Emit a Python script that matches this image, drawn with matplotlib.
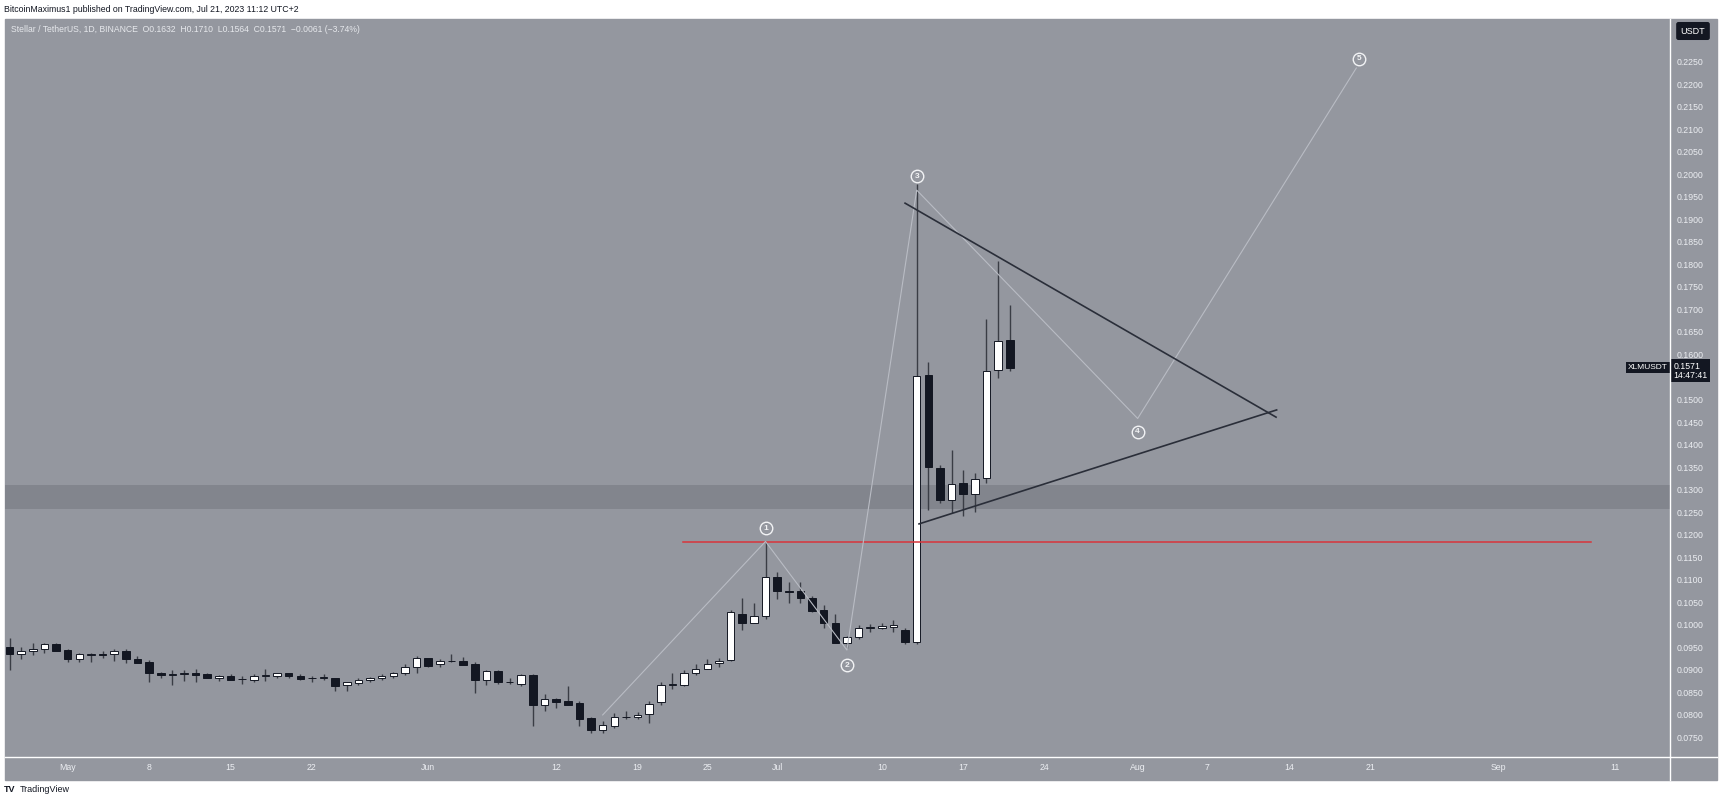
import numpy as np
import pandas as pd
import matplotlib
matplotlib.use("Agg")
import matplotlib.pyplot as plt
from matplotlib.patches import Rectangle
from matplotlib.lines import Line2D
import matplotlib.transforms as mtransforms

plt.rcParams['font.family'] = ['Liberation Sans', 'DejaVu Sans']

# daily candles, XLM/USDT, Apr 26 .. Jul 21 2023
dates = pd.date_range("2023-04-26", "2023-07-21", freq="D")
opens = [0.0950, 0.0935, 0.0941, 0.0946, 0.0958,
         0.0944, 0.0925, 0.0934, 0.0935, 0.0935, 0.0942, 0.0924, 0.0917, 0.0894, 0.0889,
         0.0890, 0.0894, 0.0891, 0.0881, 0.0887, 0.0879, 0.0878, 0.0887, 0.0887, 0.0892,
         0.0886, 0.0881, 0.0883, 0.0882, 0.0866, 0.0870, 0.0877, 0.0881, 0.0886, 0.0892, 0.0907,
         0.0926, 0.0912, 0.0920, 0.0919, 0.0913, 0.0878, 0.0897, 0.0873, 0.0868, 0.0888,
         0.0821, 0.0836, 0.0831, 0.0827, 0.0793, 0.0767, 0.0776, 0.0795, 0.0796, 0.0801,
         0.0828, 0.0866, 0.0867, 0.0894, 0.0903, 0.0915, 0.0922, 0.1025, 0.1003, 0.1020,
         0.1107, 0.1074, 0.1074, 0.1059, 0.1034, 0.1005, 0.0959, 0.0973, 0.0993, 0.0994,
         0.0996, 0.0988, 0.0961, 0.1554, 0.1348, 0.1277, 0.1314, 0.1290, 0.1325, 0.1565, 0.1632]
highs = [0.0970, 0.0950, 0.0959, 0.0959, 0.0960,
         0.0946, 0.0937, 0.0938, 0.0943, 0.0946, 0.0946, 0.0930, 0.0922, 0.0895, 0.0900,
         0.0900, 0.0902, 0.0893, 0.0889, 0.0891, 0.0887, 0.0890, 0.0901, 0.0894, 0.0894,
         0.0891, 0.0886, 0.0890, 0.0883, 0.0874, 0.0881, 0.0885, 0.0891, 0.0896, 0.0912, 0.0931,
         0.0927, 0.0924, 0.0935, 0.0928, 0.0918, 0.0900, 0.0900, 0.0883, 0.0891, 0.0890,
         0.0847, 0.0838, 0.0864, 0.0831, 0.0796, 0.0787, 0.0805, 0.0809, 0.0806, 0.0832,
         0.0874, 0.0894, 0.0900, 0.0914, 0.0925, 0.0926, 0.1034, 0.1060, 0.1048, 0.1183,
         0.1118, 0.1094, 0.1094, 0.1064, 0.1045, 0.1023, 0.0975, 0.1000, 0.1002, 0.1003,
         0.1010, 0.0993, 0.1978, 0.1583, 0.1355, 0.1388, 0.1344, 0.1336, 0.1679, 0.1808, 0.1710]
lows = [0.0900, 0.0925, 0.0934, 0.0938, 0.0941,
        0.0918, 0.0918, 0.0918, 0.0927, 0.0920, 0.0916, 0.0916, 0.0872, 0.0883, 0.0867,
        0.0875, 0.0873, 0.0881, 0.0875, 0.0878, 0.0868, 0.0874, 0.0875, 0.0883, 0.0881,
        0.0878, 0.0874, 0.0877, 0.0854, 0.0854, 0.0866, 0.0872, 0.0877, 0.0881, 0.0889, 0.0894,
        0.0907, 0.0906, 0.0917, 0.0911, 0.0849, 0.0866, 0.0868, 0.0869, 0.0865, 0.0776,
        0.0809, 0.0816, 0.0823, 0.0776, 0.0760, 0.0760, 0.0771, 0.0792, 0.0790, 0.0782,
        0.0823, 0.0857, 0.0864, 0.0888, 0.0902, 0.0907, 0.0920, 0.0989, 0.1003, 0.1014,
        0.1057, 0.1048, 0.1049, 0.1029, 0.0994, 0.0959, 0.0948, 0.0968, 0.0985, 0.0990,
        0.0985, 0.0958, 0.0958, 0.1255, 0.1271, 0.1249, 0.1242, 0.1251, 0.1315, 0.1547, 0.1564]
closes = [0.0935, 0.0942, 0.0947, 0.0958, 0.0943,
          0.0925, 0.0935, 0.0935, 0.0934, 0.0941, 0.0924, 0.0916, 0.0894, 0.0888, 0.0890,
          0.0894, 0.0888, 0.0881, 0.0887, 0.0878, 0.0880, 0.0887, 0.0888, 0.0892, 0.0887,
          0.0880, 0.0882, 0.0884, 0.0865, 0.0872, 0.0877, 0.0882, 0.0887, 0.0893, 0.0907, 0.0926,
          0.0909, 0.0919, 0.0919, 0.0911, 0.0878, 0.0897, 0.0872, 0.0872, 0.0888, 0.0821,
          0.0835, 0.0829, 0.0823, 0.0791, 0.0767, 0.0777, 0.0796, 0.0796, 0.0800, 0.0824,
          0.0867, 0.0868, 0.0894, 0.0903, 0.0914, 0.0920, 0.1028, 0.1003, 0.1020, 0.1107,
          0.1074, 0.1073, 0.1059, 0.1031, 0.1005, 0.0959, 0.0972, 0.0993, 0.0995, 0.0997,
          0.0999, 0.0961, 0.1552, 0.1350, 0.1277, 0.1312, 0.1290, 0.1323, 0.1563, 0.1631, 0.1571]

# drawings (x = days since May 1 2023)
wave_days = [46, 60, 67, 73, 92, 110.8]
wave_prices = [0.0800, 0.1185, 0.0944, 0.1965, 0.1458, 0.2236]
wave_labels = ["1", "2", "3", "4", "5"]
wave_label_days = [60, 67, 73, 92, 111]
wave_label_prices = [0.1214, 0.0910, 0.1996, 0.1429, 0.2257]

upper_days = [72.0, 103.9]
upper_prices = [0.1936, 0.1461]
lower_days = [73.2, 103.95]
lower_prices = [0.1224, 0.1477]

red_days = [52.9, 131.0]
red_price = 0.1183
zone_low, zone_high = 0.1257, 0.1310

tick_dates = ["2023-05-01", "2023-05-08", "2023-05-15", "2023-05-22", "2023-06-01",
              "2023-06-12", "2023-06-19", "2023-06-25", "2023-07-01", "2023-07-10",
              "2023-07-17", "2023-07-24", "2023-08-01", "2023-08-07", "2023-08-14",
              "2023-08-21", "2023-09-01", "2023-09-11"]
tick_labels = ["May", "8", "15", "22", "Jun", "12", "19", "25", "Jul", "10",
               "17", "24", "Aug", "7", "14", "21", "Sep", "11"]

base = pd.Timestamp("2023-05-01")
x = np.array((dates - base).days, dtype=float)
tick_x = [(pd.Timestamp(t) - base).days for t in tick_dates]

bg = "#94979f"
dark = "#131722"
W, H = 1722, 802

fig = plt.figure(figsize=(W / 100, H / 100), dpi=100, facecolor="white")
fig.patches.append(Rectangle((5 / W, 1 - 780 / H), (1717 - 5) / W, (780 - 19) / H,
                             transform=fig.transFigure, color=bg, zorder=-10))
ax = fig.add_axes([5 / W, 1 - 757 / H, (1670 - 5) / W, (757 - 19) / H])
ax.set_facecolor(bg)

ax.axhspan(zone_low, zone_high, color="#82858d", lw=0, zorder=0)

for xi, o, h, l, c in zip(x, opens, highs, lows, closes):
    up = c >= o
    ax.vlines(xi, l, h, color="#3a3d45", lw=1.0, zorder=2)
    ax.bar(xi, max(abs(c - o), 0.00015), bottom=min(o, c), width=0.65,
           color="white" if up else dark, edgecolor=dark, lw=0.7, zorder=3)

ax.plot(red_days, [red_price, red_price], color="#d8353b", lw=1.1, zorder=4)
ax.plot(wave_days, wave_prices, color="#b9bcc4", lw=0.8, zorder=4)
ax.plot(upper_days, upper_prices, color="#2a2e39", lw=1.2, zorder=4)
ax.plot(lower_days, lower_prices, color="#2a2e39", lw=1.2, zorder=4)

ax.plot(wave_label_days, wave_label_prices, "o", ms=9, mfc="none", mec="#f2f3f5",
        mew=1.0, zorder=5)
for d, p, t in zip(wave_label_days, wave_label_prices, wave_labels):
    ax.text(d, p, t, fontsize=6, color="#f2f3f5", ha="center", va="center",
            fontweight="bold", zorder=6)

ax.set_xlim((5 - 67.7) / 11.63, (1670 - 67.7) / 11.63)
ax.set_ylim(0.2250 - (757 - 61.7) / 4505, 0.2250 + (61.7 - 19) / 4505)

ax.set_xticks(tick_x)
ax.set_xticklabels(tick_labels)
yt = np.arange(0.0750, 0.22501, 0.005)
ax.set_yticks(yt)
# the 0.1550 label sits under the last-price badge
ax.set_yticklabels(["" if abs(v - 0.155) < 1e-6 else f"{v:.4f}" for v in yt])
ax.yaxis.tick_right()
ax.tick_params(axis="y", length=0, pad=4.5, labelsize=6.3, labelcolor="#eceef2")
ax.tick_params(axis="x", length=0, pad=4, labelsize=6.3, labelcolor="#eceef2")
for s in ax.spines.values():
    s.set_visible(False)

# last price badges
tr = mtransforms.blended_transform_factory(ax.transAxes, ax.transData)
ax.text(0.9986, closes[-1], "XLMUSDT", transform=tr, ha="right", va="center",
        fontsize=6, color="white", clip_on=False, zorder=7,
        bbox=dict(boxstyle="square,pad=0.25", fc=dark, ec="none"))
ax.text(1.0022, closes[-1] - 0.0007, "0.1571\n14:47:41", transform=tr, ha="left", va="center",
        fontsize=6.3, color="white", clip_on=False, zorder=7, linespacing=1.05,
        bbox=dict(boxstyle="square,pad=0.25", fc=dark, ec="none"))

# separators
fig.add_artist(Line2D([5 / W, 1717 / W], [1 - 757 / H] * 2, color="white", lw=1))
fig.add_artist(Line2D([1670 / W] * 2, [1 - 19 / H, 1 - 780 / H], color="white", lw=1))

fig.text(1693 / W, 1 - 31 / H, "USDT", ha="center", va="center", fontsize=6.5, color="white",
         bbox=dict(boxstyle="round,pad=0.5,rounding_size=0.25", fc=dark, ec="none"))

fig.text(4 / W, 1 - 10 / H, "BitcoinMaximus1 published on TradingView.com, Jul 21, 2023 11:12 UTC+2",
         ha="left", va="center", fontsize=6.3, color=dark)
fig.text(11 / W, 1 - 29 / H,
         "Stellar / TetherUS, 1D, BINANCE  O0.1632  H0.1710  L0.1564  C0.1571  \u22120.0061 (\u22123.74%)",
         ha="left", va="center", fontsize=6.2, color="#e6e8ec")
fig.text(4 / W, 1 - 790 / H, "TV", ha="left", va="center", fontsize=6.5, color=dark,
         fontweight="bold")
fig.text(20 / W, 1 - 790 / H, "TradingView", ha="left", va="center", fontsize=6.5, color=dark)

fig.savefig("out.png", dpi=100, facecolor="white")
